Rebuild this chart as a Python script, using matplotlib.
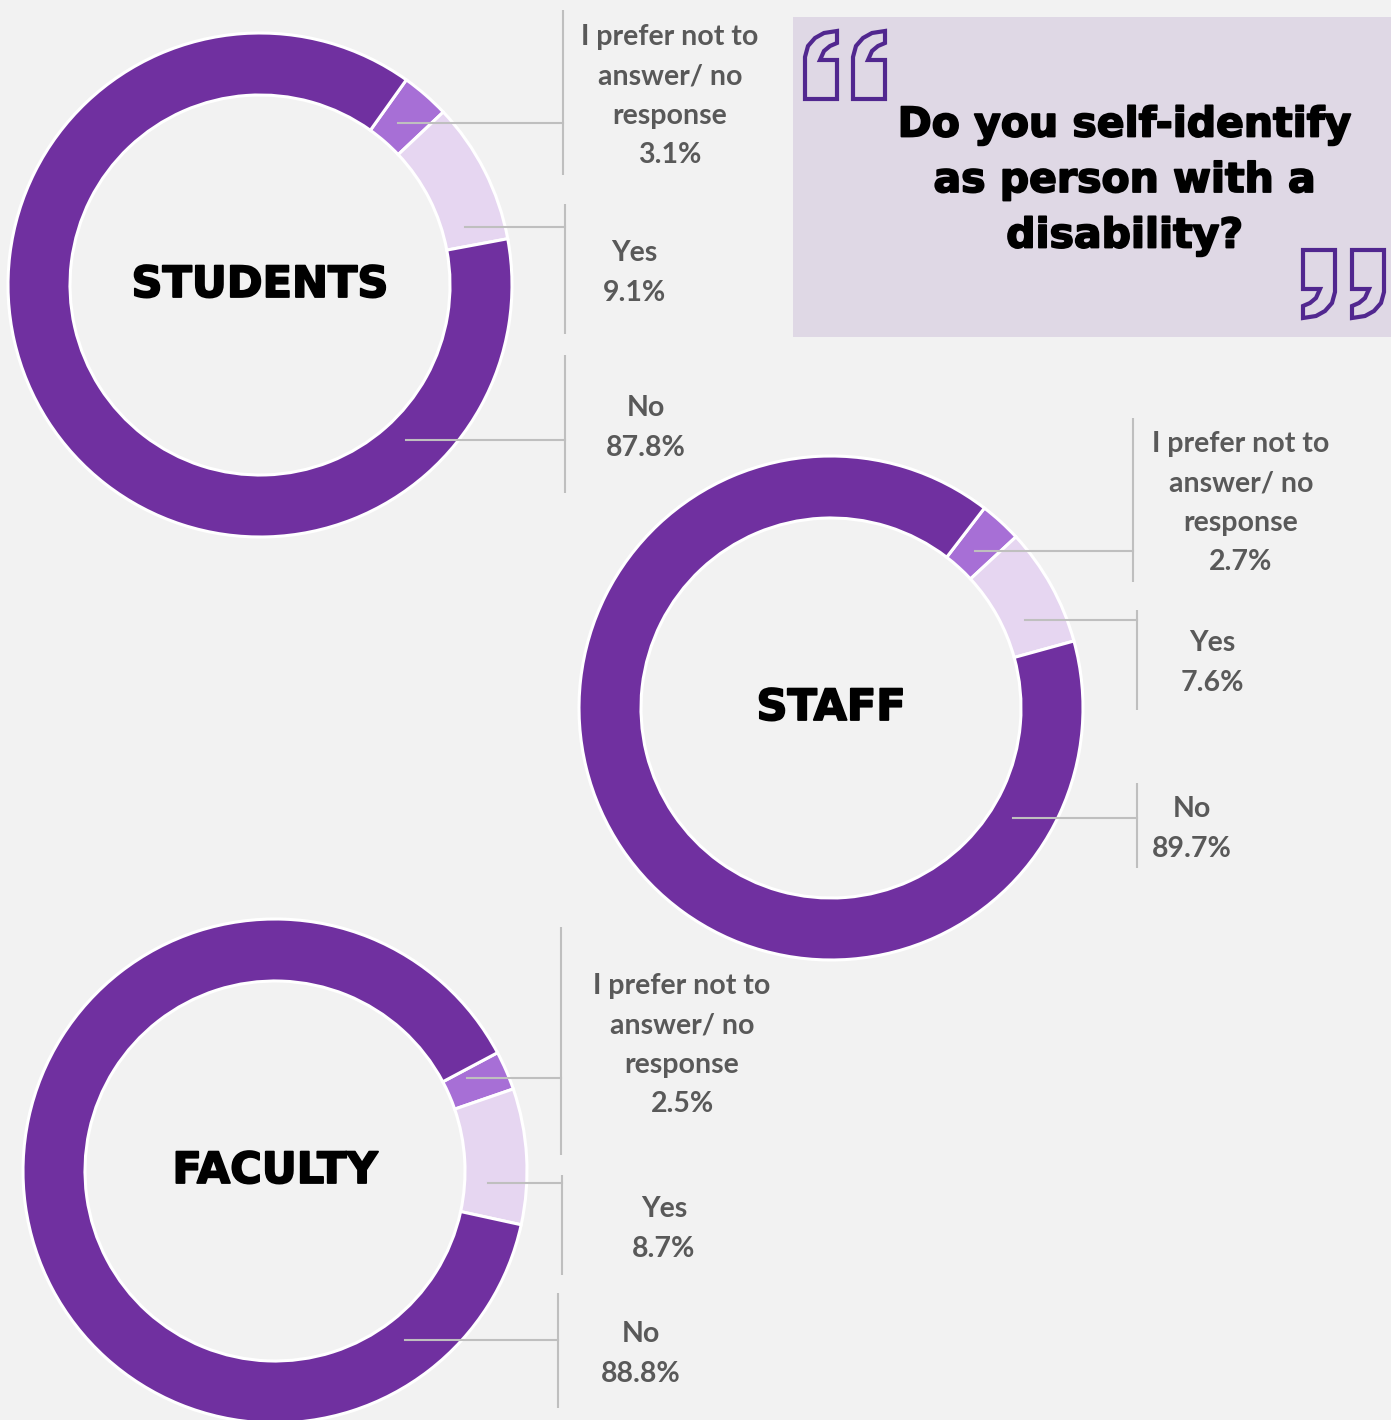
import matplotlib.pyplot as plt
from matplotlib.patches import Rectangle, Polygon
import matplotlib.patheffects as pe
import numpy as np

# data
groups = ["STUDENTS", "STAFF", "FACULTY"]
categories = ["I prefer not to\nanswer/ no\nresponse", "Yes", "No"]
pref = [3.1, 2.7, 2.5]
yes = [9.1, 7.6, 8.7]
no = [87.8, 89.7, 88.8]
question = "Do you self-identify\nas person with a\ndisability?"

colors = ["#A76FD6", "#E6D6F1", "#7030A0"]
bg = "#F2F2F2"
W, H = 1391, 1420

# layout (pixel coords, y measured from top)
centers = [(260, 285), (831, 708), (275, 1171)]
start_deg = [35.5, 37.5, 62.0]  # clockwise from 12 o'clock
R, RW = 252, 62
label_x = [[670, 634, 646], [1241, 1212, 1192], [682, 664, 641]]
label_y = [[96, 273, 428], [503, 663, 829], [1045, 1229, 1354]]
bar_x = [[563, 565, 565], [1133, 1137, 1137], [561, 562, 558]]
bar_y = [[(10, 175), (204, 334), (355, 493)],
         [(418, 582), (610, 710), (783, 868)],
         [(927, 1155), (1175, 1275), (1293, 1408)]]
lead_y = [[123, 227, 440], [551, 620, 818], [1078, 1183, 1340]]

heavy = [pe.withStroke(linewidth=1.3, foreground="black")]

fig = plt.figure(figsize=(W / 100, H / 100), dpi=100, facecolor=bg)
ax = fig.add_axes([0, 0, 1, 1])
ax.set_facecolor(bg)

def Y(y):
    return H - y

for i, g in enumerate(groups):
    cx, cy = centers[i]
    vals = [pref[i], yes[i], no[i]]
    ax.pie(vals, center=(cx, Y(cy)), radius=R, startangle=90 - start_deg[i],
           counterclock=False, colors=colors,
           wedgeprops=dict(width=RW, edgecolor="white", linewidth=2.2))
    ax.text(cx, Y(cy), g, ha="center", va="center", fontsize=31,
            family="DejaVu Sans", weight="bold", color="black",
            path_effects=heavy)
    for j, cat in enumerate(categories):
        ax.text(label_x[i][j], Y(label_y[i][j]), f"{cat}\n{vals[j]:.1f}%",
                ha="center", va="center", fontsize=20.5, family="Lato",
                weight="bold", color="#595959", linespacing=1.62)
        bx = bar_x[i][j]
        y0, y1 = bar_y[i][j]
        ax.plot([bx, bx], [Y(y0), Y(y1)], color="#BFBFBF", lw=1.5,
                solid_capstyle="butt")
        ly = lead_y[i][j]
        dy = ly - cy
        r = 213
        sx = cx + np.sqrt(max(r * r - dy * dy, 0))
        ax.plot([sx, bx], [Y(ly), Y(ly)], color="#BFBFBF", lw=1.5)

# quote box
ax.add_patch(Rectangle((793, Y(337)), W - 793, 320, facecolor="#DFD8E5",
                       edgecolor="none"))
mark = np.array([(0, 68), (0, 26), (3, 15), (10, 7), (19, 2), (32, 0), (32, 12),
                 (25, 15), (19, 20), (15, 29), (32, 29), (32, 68)], float)
for ox, oy in [(805, 31), (853, 31)]:
    pts = np.column_stack([mark[:, 0] + ox, Y(mark[:, 1] + oy)])
    ax.add_patch(Polygon(pts, closed=True, facecolor="none",
                         edgecolor="#51278F", lw=3))
for ox, oy in [(1303, 250), (1352, 250)]:
    m2 = np.column_stack([32 - mark[:, 0], 68 - mark[:, 1]])
    pts = np.column_stack([m2[:, 0] + ox, Y(m2[:, 1] + oy)])
    ax.add_patch(Polygon(pts, closed=True, facecolor="none",
                         edgecolor="#51278F", lw=3))
ax.text(1125, Y(181), question, ha="center", va="center", fontsize=29.5,
        family="DejaVu Sans", weight="bold", color="black", linespacing=1.5,
        path_effects=heavy)

ax.set_xlim(0, W)
ax.set_ylim(0, H)
ax.set_aspect("equal")
ax.axis("off")
fig.savefig("out.png", dpi=100, facecolor=bg)
